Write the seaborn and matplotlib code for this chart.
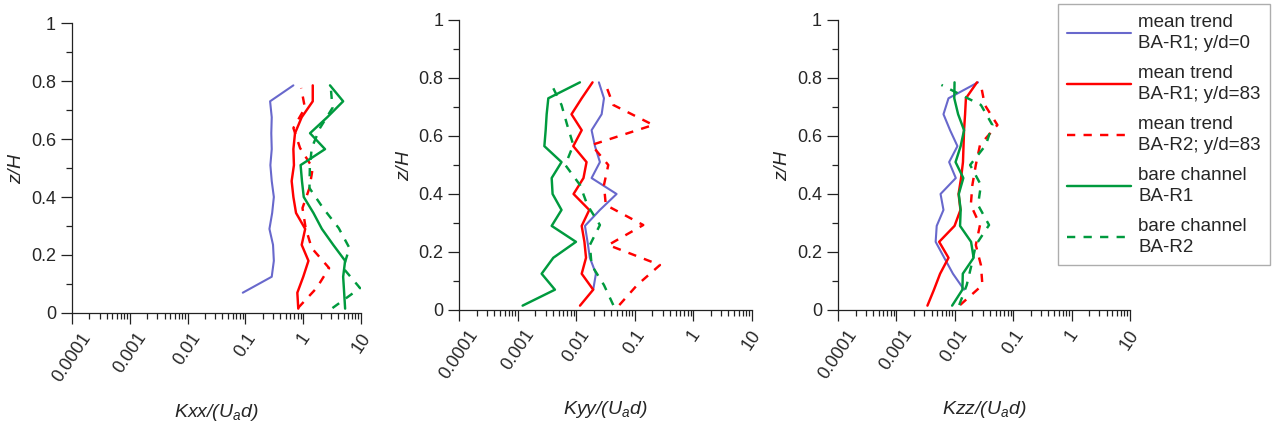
import pandas as pd
import matplotlib.pyplot as plt
import seaborn as sns
import numpy as np
from matplotlib.ticker import FixedLocator, LogLocator, NullFormatter, MultipleLocator

# z/H levels of the two measurement grids
z_r1 = [0.015, 0.07, 0.125, 0.18, 0.235, 0.29, 0.345, 0.40, 0.455, 0.51, 0.565, 0.62, 0.675, 0.73, 0.785]
z_r1_y0 = z_r1[1:]
z_r2 = [0.017, 0.086, 0.155, 0.224, 0.293, 0.362, 0.431, 0.50, 0.569, 0.638, 0.707, 0.776]

# Kxx/(Ua d)
kxx_r1_y0 = [0.09, 0.285, 0.31, 0.30, 0.26, 0.29, 0.31, 0.285, 0.27, 0.285, 0.28, 0.285, 0.267, 0.675]
kxx_r1_y83 = [0.82, 0.79, 1.0, 1.23, 0.94, 1.08, 0.75, 0.675, 0.63, 0.69, 0.675, 0.72, 0.94, 1.46, 1.46]
kxx_r2_y83 = [0.81, 1.7, 2.8, 1.4, 1.1, 0.97, 1.28, 1.46, 0.88, 0.675, 1.07, 0.92]
kxx_bare_r1 = [5.3, 5.1, 4.9, 5.3, 3.3, 2.1, 1.5, 1.02, 0.95, 0.90, 2.38, 1.31, 2.6, 4.9, 2.9]
kxx_bare_r2 = [3.2, 9.6, 4.9, 6.3, 4.1, 2.2, 1.28, 1.3, 1.4, 1.95, 3.2, 3.0]

# Kyy/(Ua d)
kyy_r1_y0 = [0.0195, 0.0217, 0.0171, 0.0156, 0.0141, 0.0254, 0.049, 0.0183, 0.0254, 0.0209, 0.0183, 0.0272, 0.0298, 0.0244]
kyy_r1_y83 = [0.0116, 0.0195, 0.0124, 0.0147, 0.0138, 0.0124, 0.0167, 0.009, 0.0133, 0.015, 0.0089, 0.0124, 0.0083, 0.0124, 0.019]
kyy_r2_y83 = [0.0545, 0.110, 0.27, 0.0353, 0.14, 0.032, 0.0298, 0.0353, 0.0183, 0.207, 0.043, 0.032]
kyy_bare_r1 = [0.00121, 0.00432, 0.00256, 0.00405, 0.00989, 0.0038, 0.0056, 0.00394, 0.0038, 0.0056, 0.00285, 0.003, 0.00312, 0.00333, 0.01156]
kyy_bare_r2 = [0.043, 0.0298, 0.0183, 0.0171, 0.0254, 0.0155, 0.0116, 0.0065, 0.0089, 0.0070, 0.0056, 0.0038]

# Kzz/(Ua d)
kzz_r1_y0 = [0.0144, 0.0093, 0.0066, 0.0047, 0.0049, 0.0064, 0.0057, 0.0104, 0.008, 0.0111, 0.0083, 0.0064, 0.0078, 0.025]
kzz_r1_y83 = [0.0034, 0.0044, 0.0056, 0.0078, 0.0054, 0.0099, 0.0125, 0.0116, 0.0128, 0.0138, 0.0141, 0.0144, 0.015, 0.0155, 0.024]
kzz_r2_y83 = [0.0123, 0.0297, 0.028, 0.0229, 0.027, 0.0188, 0.020, 0.0229, 0.027, 0.0537, 0.0326, 0.028]
kzz_bare_r1 = [0.0090, 0.0135, 0.0137, 0.021, 0.019, 0.0123, 0.0126, 0.0117, 0.014, 0.0103, 0.0126, 0.0144, 0.0114, 0.0098, 0.0099]
kzz_bare_r2 = [0.0119, 0.016, 0.0193, 0.0229, 0.0386, 0.025, 0.028, 0.0183, 0.034, 0.044, 0.028, 0.0059]

labels = ["mean trend\nBA-R1; y/d=0", "mean trend\nBA-R1; y/d=83", "mean trend\nBA-R2; y/d=83",
          "bare channel\nBA-R1", "bare channel\nBA-R2"]
x_names = ["Kxx", "Kyy", "Kzz"]
tick_vals = [0.0001, 0.001, 0.01, 0.1, 1, 10]
tick_text = ["0.0001", "0.001", "0.01", "0.1", "1", "10"]

blue = "#6868CC"
red = "#FF0000"
green = "#009A3E"
dash = (0, (3.4, 3.4))

sns.set_style("ticks")
plt.rcParams["font.family"] = ["Liberation Sans", "DejaVu Sans"]
plt.rcParams["mathtext.fontset"] = "custom"
plt.rcParams["mathtext.rm"] = "Liberation Sans:italic"
plt.rcParams["mathtext.it"] = "Liberation Sans:italic"

fig = plt.figure(figsize=(12.79, 4.30), dpi=100)
positions = [
    [0.0563, 0.2721, 0.2260, 0.6744],
    [0.3591, 0.2791, 0.2286, 0.6744],
    [0.6552, 0.2791, 0.2283, 0.6744],
]

panels = [
    (kxx_r1_y0, kxx_r1_y83, kxx_r2_y83, kxx_bare_r1, kxx_bare_r2),
    (kyy_r1_y0, kyy_r1_y83, kyy_r2_y83, kyy_bare_r1, kyy_bare_r2),
    (kzz_r1_y0, kzz_r1_y83, kzz_r2_y83, kzz_bare_r1, kzz_bare_r2),
]

handles = []
for i, (pos, series) in enumerate(zip(positions, panels)):
    ax = fig.add_axes(pos)
    zs = [z_r1_y0, z_r1, z_r2, z_r1, z_r2]
    cols = [blue, red, red, green, green]
    styles = ["-", "-", dash, "-", dash]
    widths = [1.5, 1.75, 1.75, 1.75, 1.75]
    for vals, z, c, ls, lw, lab in zip(series, zs, cols, styles, widths, labels):
        sns.lineplot(x=vals, y=z, ax=ax, color=c, linewidth=lw, linestyle=ls,
                     orient="y", estimator=None, sort=False, label=lab, legend=False)
    if i == 0:
        handles = list(ax.lines)

    ax.set_xscale("log")
    ax.set_xlim(1e-4, 10)
    ax.set_ylim(0, 1)
    ax.xaxis.set_major_locator(FixedLocator(tick_vals))
    ax.set_xticklabels(tick_text, rotation=56, ha="center", va="top")
    ax.xaxis.set_minor_locator(LogLocator(base=10, subs=np.arange(2, 10)))
    ax.xaxis.set_minor_formatter(NullFormatter())
    ax.set_yticks([0, 0.2, 0.4, 0.6, 0.8, 1.0])
    ax.set_yticklabels(["0", "0.2", "0.4", "0.6", "0.8", "1"])
    ax.yaxis.set_minor_locator(MultipleLocator(0.1))
    ax.tick_params(axis="both", which="major", labelsize=13, length=8, width=0.9, color="#222222")
    ax.tick_params(axis="both", which="minor", length=4.5, width=0.9, color="#222222")
    ax.tick_params(axis="x", which="major", pad=4)
    for s in ["left", "bottom"]:
        ax.spines[s].set_linewidth(0.9)
        ax.spines[s].set_color("#222222")
    sns.despine(ax=ax)
    ax.set_xlabel(r"$" + x_names[i] + r"/(U_a d)$", fontsize=14, labelpad=12)
    ax.set_ylabel(r"$z/H$", fontsize=14, labelpad=4)

leg = fig.legend(handles, labels, loc="upper right", bbox_to_anchor=(0.993, 0.99),
                 fontsize=13.5, frameon=True, fancybox=False, edgecolor="#999999",
                 handlelength=3.4, handletextpad=0.4, labelspacing=0.7,
                 borderpad=0.5, borderaxespad=0)
leg.get_frame().set_linewidth(1.0)
for t in leg.get_texts():
    t.set_linespacing(1.3)

fig.savefig("out.png", dpi=100)
plt.close()
